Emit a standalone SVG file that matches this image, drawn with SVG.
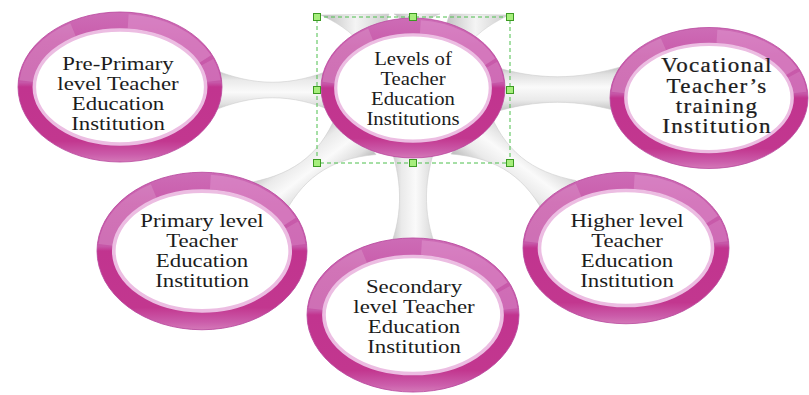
<svg xmlns="http://www.w3.org/2000/svg" width="809" height="395" viewBox="0 0 809 395">
<style>
.t{font-family:"Liberation Serif","Times New Roman",serif;font-size:19px;fill:#1c1c1c;text-anchor:middle}
.tv{font-size:20px;letter-spacing:1.2px;stroke:#1c1c1c;stroke-width:0.25}
.tube{fill:url(#tubeGrad);stroke:#cfcfcf;stroke-width:0.6}
.wedge{fill:url(#wedgeGrad);stroke:#cdcdcd;stroke-width:0.5}
.handle{fill:#a6ee7c;stroke:#3c9a22;stroke-width:1}
.sel{fill:none;stroke:#4cbf4c;stroke-width:1;stroke-dasharray:4 3}
</style>
<defs>
<linearGradient id="tubeGrad" x1="0" y1="0" x2="0" y2="1">
<stop offset="0" stop-color="#b8b8b8"/>
<stop offset="0.18" stop-color="#e0e0e0"/>
<stop offset="0.45" stop-color="#fafafa"/>
<stop offset="0.72" stop-color="#eaeaea"/>
<stop offset="1" stop-color="#b9b9b9"/>
</linearGradient>
<linearGradient id="wedgeGrad" x1="0" y1="0" x2="1" y2="0">
<stop offset="0" stop-color="#bdbdbd"/>
<stop offset="0.5" stop-color="#f4f4f4"/>
<stop offset="1" stop-color="#cccccc"/>
</linearGradient>
<linearGradient id="ringGrad" x1="0" y1="0" x2="0" y2="1">
<stop offset="0" stop-color="#cd6cb6"/>
<stop offset="0.2" stop-color="#c95cab"/>
<stop offset="0.47" stop-color="#c657a8"/>
<stop offset="0.5" stop-color="#c1348f"/>
<stop offset="0.86" stop-color="#c2378f"/>
<stop offset="0.95" stop-color="#cb5caa"/>
<stop offset="1" stop-color="#d478b8"/>
</linearGradient>
<g id="ring">
<ellipse cx="0" cy="0" rx="100" ry="75" fill="url(#ringGrad)" stroke="#b8479d" stroke-width="0.8"/>
<path d="M8,-65.7 A92,66 0 0 1 83.4,-27.9" fill="none" stroke="#e6a2d6" stroke-width="14" opacity="0.4"/>
<path d="M85.3,-24.7 A92,66 0 0 1 91.6,-5.8" fill="none" stroke="#e6a2d6" stroke-width="14" opacity="0.28"/>
<path d="M-91.6,-5.8 A92,66 0 0 1 -46,-57.2" fill="none" stroke="#ffffff" stroke-width="14" opacity="0.15"/>
<ellipse cx="0" cy="0" rx="84" ry="57" fill="#ffffff" stroke="#ecbde2" stroke-width="3.5"/>
</g>
</defs>
<rect width="809" height="395" fill="#ffffff"/>
<g id="connectors">
<path class="wedge" d="M321,15 C335,22 350,30 362,45 L390,40 C386,30 386,22 389,14 Z"/>
<path class="wedge" d="M394,14 L440,14 C431,17 426,22 424,30 L405,30 C402,22 400,17 394,14 Z"/>
<path class="wedge" d="M509,15 C495,22 480,30 468,45 L442,40 C446,30 446,22 450,14 Z"/>
<path class="tube" transform="translate(335 90) rotate(180)" d="M0,-22 C44,-3 81,-3 125,-22 L125,22 C81,3 44,3 0,22 Z"/>
<path class="tube" transform="translate(490 89.5)" d="M0,-24 C47,-9 88,-9 135,-24 L135,24 C88,9 47,9 0,24 Z"/>
<path class="tube" transform="translate(413 148) rotate(90)" d="M0,-22 C37,-10 70,-10 107,-26 L107,26 C70,10 37,10 0,22 Z"/>
<path class="tube" transform="translate(357.6 130.8) rotate(142.3)" d="M0,-30 C40,-4 75,-4 115,-24 L115,24 C75,4 40,4 0,30 Z"/>
<path class="tube" transform="translate(469 130) rotate(37)" d="M0,-30 C41,-4 75,-4 116,-24 L116,24 C75,4 41,4 0,30 Z"/>
</g>
<g id="node-preprimary">
<use href="#ring" transform="translate(120 87) scale(1.02 1)"/>
<text class="t" transform="translate(118 0) scale(1.2 1)"><tspan x="0" y="70">Pre-Primary</tspan><tspan x="0" y="90">level Teacher</tspan><tspan x="0" y="110">Education</tspan><tspan x="0" y="130">Institution</tspan></text>
</g>
<g id="node-vocational">
<use href="#ring" transform="translate(709 98) scale(0.99 0.94)"/>
<text class="t tv" transform="translate(717 0) scale(1.15 1)"><tspan x="0" y="72">Vocational</tspan><tspan x="0" y="93">Teacher’s</tspan><tspan x="0" y="113">training</tspan><tspan x="0" y="133">Institution</tspan></text>
</g>
<g id="node-primary">
<use href="#ring" transform="translate(202 251) scale(1.05 1.05)"/>
<text class="t" transform="translate(202 0) scale(1.2 1)"><tspan x="0" y="227">Primary level</tspan><tspan x="0" y="247">Teacher</tspan><tspan x="0" y="267">Education</tspan><tspan x="0" y="287">Institution</tspan></text>
</g>
<g id="node-secondary">
<use href="#ring" transform="translate(413 315) scale(1.06 1.027)"/>
<text class="t" transform="translate(414 0) scale(1.2 1)"><tspan x="0" y="293">Secondary</tspan><tspan x="0" y="313">level Teacher</tspan><tspan x="0" y="333">Education</tspan><tspan x="0" y="353">Institution</tspan></text>
</g>
<g id="node-higher">
<use href="#ring" transform="translate(626 248) scale(1.03 1.01)"/>
<text class="t" transform="translate(627 0) scale(1.2 1)"><tspan x="0" y="227.5">Higher level</tspan><tspan x="0" y="247.5">Teacher</tspan><tspan x="0" y="267.5">Education</tspan><tspan x="0" y="287.5">Institution</tspan></text>
</g>
<g id="node-center">
<use href="#ring" transform="translate(413 88) scale(0.92 0.933)"/>
<text class="t" transform="translate(413 0) scale(1.09 1)"><tspan x="0" y="65">Levels of</tspan><tspan x="0" y="85">Teacher</tspan><tspan x="0" y="105">Education</tspan><tspan x="0" y="125">Institutions</tspan></text>
</g>
<g id="selection">
<rect class="sel" x="317" y="17" width="193" height="146"/>
<rect class="handle" x="313.5" y="13.5" width="7" height="7"/>
<rect class="handle" x="409.5" y="13.5" width="7" height="7"/>
<rect class="handle" x="506.5" y="13.5" width="7" height="7"/>
<rect class="handle" x="313.5" y="86.5" width="7" height="7"/>
<rect class="handle" x="506.5" y="86.5" width="7" height="7"/>
<rect class="handle" x="313.5" y="159.5" width="7" height="7"/>
<rect class="handle" x="409.5" y="159.5" width="7" height="7"/>
<rect class="handle" x="506.5" y="159.5" width="7" height="7"/>
</g>
</svg>
